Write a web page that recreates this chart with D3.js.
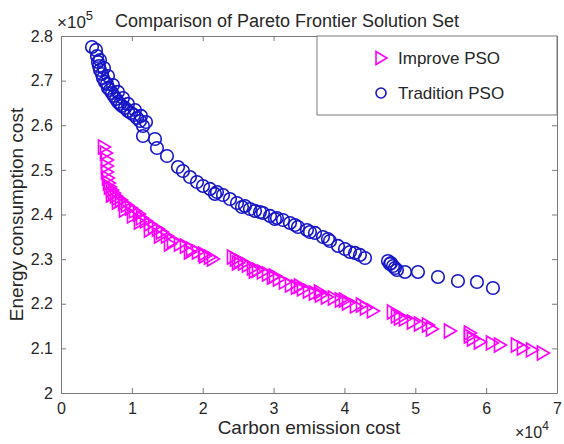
<!DOCTYPE html>
<html>
<head>
<meta charset="utf-8">
<script src="https://cdn.jsdelivr.net/npm/d3@7"></script>
<style>
  body { margin: 0; background: #fff; }
  text { font-family: "Liberation Sans", Arial, Helvetica, sans-serif; fill: #262626; }
</style>
</head>
<body>
<svg id="chart" width="564" height="444"></svg>
<script>
// Improve PSO: carbon emission cost / energy consumption cost
var improveX = [6068, 6350, 6491, 6491, 6491, 6632, 6773, 6914, 7197, 7479, 7761, 8043, 8467, 8890, 9314,
  9878, 10442, 11007, 11430, 11995, 12559, 13123, 13688, 14252, 14958, 15804, 16792, 17639, 18486, 19333,
  20180, 21026, 21450, 24272, 24695, 25260, 25824, 26388, 27094, 27800, 28505, 29211, 29916, 30763, 31610,
  32456, 33303, 34150, 34996, 35843, 36690, 37536, 38524, 39512, 40500, 41629, 43040, 44028, 46850, 47415,
  48544, 49673, 50661, 51790, 52354, 54894, 57716, 58139, 59127, 60820, 61949, 64348, 65194, 66464, 68016,
  7196, 8043, 9030, 10159, 11147, 12558, 13969, 15380, 18202, 20318, 24975, 27373, 30195, 33723, 36545,
  40072, 42471, 47833, 57710]
var improveY = [255130, 253780, 252210, 250870, 249530, 248180, 247060, 246160, 245490, 244820, 244150, 243700, 243250, 242580, 242130,
  241460, 240790, 240110, 239220, 238550, 237870, 237200, 236750, 236080, 235180, 234060, 233390, 232940, 232270, 231600,
  231150, 230480, 230030, 230480, 230030, 229580, 229130, 228680, 228010, 227560, 227120, 226670, 225990, 225550, 224880,
  224200, 223750, 223310, 222860, 222410, 221960, 221510, 221290, 220840, 220170, 219500, 219050, 218380, 218150, 217260,
  216590, 215910, 215460, 215240, 214340, 213890, 213450, 212100, 211430, 211210, 210760, 210760, 210080, 209640, 208960,
  244370, 242800, 241010, 239670, 238320, 236530, 235180, 233390, 231600, 230700, 229130, 227340, 226220, 223980, 222630,
  220840, 219720, 216810, 212770]

// Tradition PSO
var traditionX = [4375, 4939, 5080, 5221, 5362, 5503, 5786, 5927, 6209, 6491, 6632, 6914, 7197, 7479, 7761,
  8043, 8326, 8608, 9031, 9455, 9878, 10301, 10725, 11148, 11571, 11571, 13264, 13547, 14958, 16510,
  17215, 18203, 19191, 20038, 21026, 22013, 22860, 23848, 24836, 25965, 26670, 27376, 28505, 29493, 30480,
  31327, 32315, 33444, 34714, 35843, 36972, 37960, 39089, 40077, 41488, 42899, 46145, 46568, 46850, 47415,
  48544, 50378, 53200, 56023, 58704, 60962,
  5503, 6067, 6632, 7337, 8043, 8748, 9454, 10441, 11288, 11994, 21729, 25539, 28079, 30195, 33017,
  35134, 37674, 40778, 42189, 46422, 47128]
var traditionY = [277540, 276870, 275520, 274180, 273280, 272390, 271490, 270590, 269700, 269250, 268350, 267900, 267230, 266560, 265890,
  265220, 264770, 264320, 263870, 263200, 262750, 262300, 261630, 260950, 259830, 257590, 256920, 254900, 253110, 250640,
  249750, 248400, 247280, 246390, 245720, 245040, 244370, 243470, 242580, 241910, 241230, 240790, 240340, 239670, 239220,
  238770, 238100, 237200, 236530, 235860, 234960, 234060, 232950, 232270, 231380, 230250, 229580, 229130, 228460, 227560,
  227120, 227120, 226000, 225100, 224870, 223530,
  274620, 272830, 271040, 269020, 267460, 266110, 264770, 263420, 262080, 260730, 244600, 241680, 240560, 238990, 237650,
  236080, 234510, 231600, 230930, 228910, 228010]

var xTicks = [0, 1, 2, 3, 4, 5, 6, 7]
var yTicks = [2, 2.1, 2.2, 2.3, 2.4, 2.5, 2.6, 2.7, 2.8]
var seriesNames = ["Improve PSO", "Tradition PSO"]

var svg = d3.select("#chart")
var margin = {top: 36, right: 7, bottom: 51, left: 61}
var width = +svg.attr("width") - margin.left - margin.right
var height = +svg.attr("height") - margin.top - margin.bottom
var magenta = "#ff00ff", blue = "#1414c8", axisColor = "#7a7a7a"

var x = d3.scaleLinear().domain([0, 7]).range([0, width])
var y = d3.scaleLinear().domain([2, 2.8]).range([height, 0])

var g = svg.append("g").attr("transform", "translate(" + margin.left + "," + margin.top + ")")

// axes with inward ticks, box on
function styleAxis(sel) {
  sel.select(".domain").attr("stroke", axisColor)
  sel.selectAll(".tick line").attr("stroke", axisColor)
  sel.selectAll(".tick text").attr("fill", "#262626").style("font-size", "16px")
    .style("font-family", "'Liberation Sans', Arial, sans-serif")
}
g.append("g").attr("transform", "translate(0," + height + ")")
  .call(d3.axisBottom(x).tickValues(xTicks).tickFormat(d3.format("d")).tickSizeInner(-5).tickSizeOuter(0).tickPadding(10))
  .call(styleAxis)
g.append("g")
  .call(d3.axisLeft(y).tickValues(yTicks).tickFormat(function(d) { return d === 2 ? "2" : d3.format(".1f")(d) }).tickSizeInner(-5).tickSizeOuter(0).tickPadding(8))
  .call(styleAxis)
g.append("g")
  .call(d3.axisTop(x).tickValues(xTicks).tickFormat("").tickSizeInner(-5).tickSizeOuter(0))
  .call(styleAxis)
g.append("g").attr("transform", "translate(" + width + ",0)")
  .call(d3.axisRight(y).tickValues(yTicks).tickFormat("").tickSizeInner(-5).tickSizeOuter(0))
  .call(styleAxis)

// markers
var tri = "M-5.5,-7L6.5,0L-5.5,7Z"
var improve = improveX.map(function(d, i) { return {x: d / 1e4, y: improveY[i] / 1e5} })
var tradition = traditionX.map(function(d, i) { return {x: d / 1e4, y: traditionY[i] / 1e5} })

g.append("g").selectAll("path").data(improve).enter().append("path")
  .attr("d", tri)
  .attr("transform", function(d) { return "translate(" + x(d.x) + "," + y(d.y) + ")" })
  .attr("fill", "none").attr("stroke", magenta).attr("stroke-width", 1.6)

g.append("g").selectAll("circle").data(tradition).enter().append("circle")
  .attr("cx", function(d) { return x(d.x) })
  .attr("cy", function(d) { return y(d.y) })
  .attr("r", 6.3)
  .attr("fill", "none").attr("stroke", blue).attr("stroke-width", 1.6)

// legend
var legend = g.append("g").attr("transform", "translate(" + (width - 240) + ",0)")
legend.append("rect").attr("width", 240).attr("height", 79)
  .attr("fill", "#fff").attr("stroke", axisColor)
legend.append("path").attr("d", "M-5,-6.5L6,0L-5,6.5Z").attr("transform", "translate(64,22)")
  .attr("fill", "none").attr("stroke", magenta).attr("stroke-width", 1.6)
legend.append("circle").attr("cx", 64).attr("cy", 57).attr("r", 5)
  .attr("fill", "none").attr("stroke", blue).attr("stroke-width", 1.6)
legend.selectAll("text.lbl").data(seriesNames).enter().append("text")
  .attr("class", "lbl")
  .attr("x", 81).attr("y", function(d, i) { return 28 + i * 35 })
  .style("font-size", "17px")
  .text(function(d) { return d })

// title and labels
svg.append("text").attr("x", 287).attr("y", 27).attr("text-anchor", "middle")
  .style("font-size", "18px").text("Comparison of Pareto Frontier Solution Set")
svg.append("text").attr("x", margin.left + width / 2).attr("y", 434).attr("text-anchor", "middle")
  .style("font-size", "19px").text("Carbon emission cost")
svg.append("text").attr("transform", "translate(23," + (margin.top + height / 2) + ") rotate(-90)")
  .attr("text-anchor", "middle").style("font-size", "19px").text("Energy consumption cost")

// exponent labels
var e5 = svg.append("text").attr("x", 57).attr("y", 28).style("font-size", "17px")
e5.append("tspan").text("\u00d710")
e5.append("tspan").attr("dy", -8).style("font-size", "13px").text("5")
var e4 = svg.append("text").attr("x", 515).attr("y", 438).style("font-size", "16px")
e4.append("tspan").text("\u00d710")
e4.append("tspan").attr("dy", -8).style("font-size", "12px").text("4")
</script>
</body>
</html>
